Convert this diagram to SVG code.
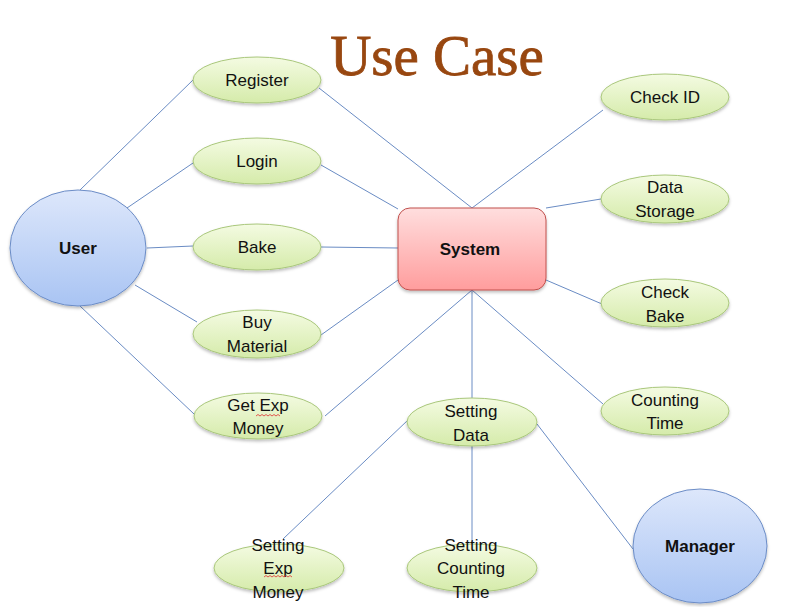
<svg xmlns="http://www.w3.org/2000/svg" width="806" height="607" viewBox="0 0 806 607">
<defs>
<linearGradient id="gBlue" x1="0" y1="0" x2="0" y2="1"><stop offset="0" stop-color="#dde7fb"/><stop offset="1" stop-color="#a9c4f3"/></linearGradient>
<linearGradient id="gGreen" x1="0" y1="0" x2="0" y2="1"><stop offset="0" stop-color="#f4fbe2"/><stop offset="1" stop-color="#d5ebaa"/></linearGradient>
<linearGradient id="gRed" x1="0" y1="0" x2="0" y2="1"><stop offset="0" stop-color="#ffdede"/><stop offset="1" stop-color="#ff9d9d"/></linearGradient>
<filter id="sh" x="-20%" y="-20%" width="140%" height="150%"><feDropShadow dx="0" dy="2" stdDeviation="1.5" flood-color="#000" flood-opacity="0.25"/></filter>
<style>
.actor{fill:url(#gBlue);stroke:#6b8cc6;stroke-width:1;filter:url(#sh)}
.uc{fill:url(#gGreen);stroke:#a9c77b;stroke-width:1;filter:url(#sh)}
.sys{fill:url(#gRed);stroke:#c0504d;stroke-width:1;filter:url(#sh)}
.t{font-family:"Liberation Sans",Arial,sans-serif;font-size:17px;fill:#111;text-anchor:middle}
.b{font-weight:bold}
#connectors line{stroke:#6a8cc4;stroke-width:1}
.sq{fill:none;stroke:#e03030;stroke-width:0.8}
</style>
</defs>
<rect width="806" height="607" fill="#fff"/>
<text x="437" y="75" font-family="'Liberation Serif','Times New Roman',serif" font-size="57" fill="#984710" stroke="#984710" stroke-width="0.8" text-anchor="middle">Use Case</text>
<g id="connectors">
<line x1="80" y1="190" x2="193" y2="80"/>
<line x1="127" y1="208" x2="193" y2="163"/>
<line x1="147" y1="248" x2="193" y2="246"/>
<line x1="135" y1="285" x2="197" y2="322"/>
<line x1="80" y1="306" x2="194" y2="414"/>
<line x1="319" y1="88" x2="472" y2="208"/>
<line x1="321" y1="165" x2="398" y2="209"/>
<line x1="321" y1="247" x2="398" y2="248"/>
<line x1="321" y1="335" x2="398" y2="280"/>
<line x1="325" y1="416" x2="472" y2="290"/>
<line x1="472" y1="208" x2="603" y2="110"/>
<line x1="546" y1="208" x2="601" y2="199"/>
<line x1="546" y1="280" x2="602" y2="304"/>
<line x1="472" y1="290" x2="603" y2="404"/>
<line x1="472" y1="290" x2="472" y2="398"/>
<line x1="408" y1="420" x2="283" y2="539"/>
<line x1="472" y1="446" x2="472" y2="545"/>
<line x1="537" y1="424" x2="633" y2="549"/>
</g>
<g id="user"><ellipse class="actor" cx="78" cy="248" rx="68" ry="58"/><text class="t b" x="78" y="254">User</text></g>
<g id="manager"><ellipse class="actor" cx="700" cy="546" rx="67" ry="57"/><text class="t b" x="700" y="552">Manager</text></g>
<g id="system"><rect class="sys" x="398" y="208" width="148" height="82" rx="12"/><text class="t b" x="470" y="255">System</text></g>
<g id="register"><ellipse class="uc" cx="257" cy="80" rx="64" ry="23"/><text class="t" x="257" y="86">Register</text></g>
<g id="login"><ellipse class="uc" cx="257" cy="161" rx="64" ry="23"/><text class="t" x="257" y="167">Login</text></g>
<g id="bake"><ellipse class="uc" cx="257" cy="247" rx="64" ry="23"/><text class="t" x="257" y="253">Bake</text></g>
<g id="buy-material"><ellipse class="uc" cx="257" cy="334" rx="64" ry="24"/><text class="t" x="257" y="328">Buy</text><text class="t" x="257" y="352">Material</text></g>
<g id="get-exp-money"><ellipse class="uc" cx="258" cy="416" rx="64" ry="23"/><text class="t" x="258" y="411">Get Exp</text><text class="t" x="258" y="434">Money</text><path class="sq" d="M256 416 l2 -1.5 l2 1.5 l2 -1.5 l2 1.5 l2 -1.5 l2 1.5 l2 -1.5 l2 1.5 l2 -1.5 l2 1.5 l2 -1.5 l2 1.5"/></g>
<g id="check-id"><ellipse class="uc" cx="665" cy="97" rx="64" ry="23"/><text class="t" x="665" y="103">Check ID</text></g>
<g id="data-storage"><ellipse class="uc" cx="665" cy="199" rx="64" ry="24"/><text class="t" x="665" y="193">Data</text><text class="t" x="665" y="217">Storage</text></g>
<g id="check-bake"><ellipse class="uc" cx="665" cy="303" rx="64" ry="24"/><text class="t" x="665" y="298">Check</text><text class="t" x="665" y="322">Bake</text></g>
<g id="counting-time"><ellipse class="uc" cx="665" cy="411" rx="64" ry="24"/><text class="t" x="665" y="406">Counting</text><text class="t" x="665" y="429">Time</text></g>
<g id="setting-data"><ellipse class="uc" cx="472" cy="422" rx="65" ry="24"/><text class="t" x="471" y="417">Setting</text><text class="t" x="471" y="441">Data</text></g>
<g id="setting-exp-money"><ellipse class="uc" cx="279" cy="568" rx="65" ry="24"/><text class="t" x="278" y="551">Setting</text><text class="t" x="278" y="574">Exp</text><text class="t" x="278" y="598">Money</text><path class="sq" d="M264 577 l2 -1.5 l2 1.5 l2 -1.5 l2 1.5 l2 -1.5 l2 1.5 l2 -1.5 l2 1.5 l2 -1.5 l2 1.5 l2 -1.5 l2 1.5 l2 -1.5 l2 1.5"/></g>
<g id="setting-counting-time"><ellipse class="uc" cx="472" cy="568" rx="65" ry="24"/><text class="t" x="471" y="551">Setting</text><text class="t" x="471" y="574">Counting</text><text class="t" x="471" y="598">Time</text></g>
</svg>
